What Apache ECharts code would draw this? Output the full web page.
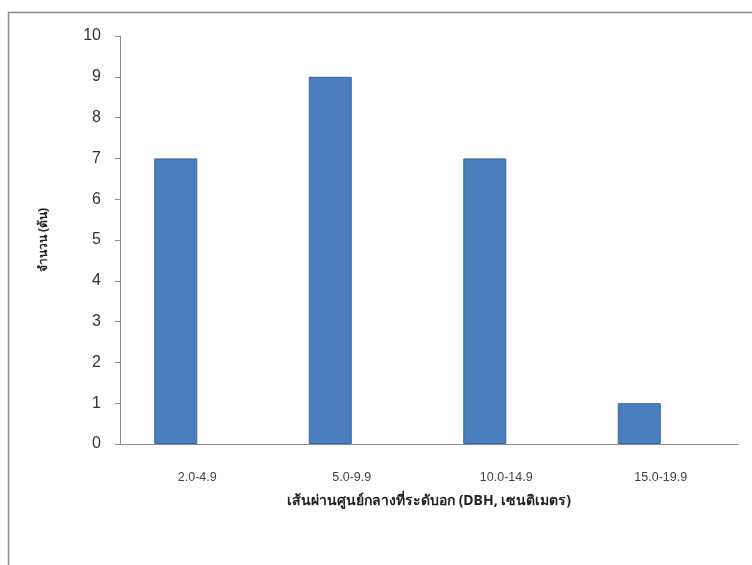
<!DOCTYPE html>
<html>
<head>
<meta charset="utf-8">
<script src="https://cdn.jsdelivr.net/npm/echarts@6/dist/echarts.min.js"></script>
<style>
  html, body { margin: 0; padding: 0; background: #fff; }
  #chart { width: 752px; height: 565px; }
</style>
</head>
<body>
<div id="chart"></div>
<script>
// diameter classes (cm) and tree counts
const categories = ['2.0-4.9', '5.0-9.9', '10.0-14.9', '15.0-19.9']
const counts = [7, 9, 7, 1]
const emptySeries = ['-', '-', '-', '-']
const yTicks = { min: 0, max: 10, interval: 1 }

const xTitle = 'เส้นผ่านศูนย์กลางที่ระดับอก (DBH, เซนติเมตร)'
const yTitle = 'จำนวน (ต้น)'

let chart = echarts.init(document.getElementById('chart'))

let option = {
    animation: false,
    backgroundColor: '#fff',
    graphic: [{
        type: 'rect',
        shape: { x: 8.5, y: 12.5, width: 760, height: 570 },
        style: { fill: 'none', stroke: '#8c8c8c', lineWidth: 1.5 },
        silent: true
    }],
    grid: { left: 120, right: 14, top: 36, bottom: 121 },
    xAxis: {
        type: 'category',
        data: categories,
        name: xTitle,
        nameLocation: 'middle',
        nameGap: 50,
        nameTextStyle: { fontSize: 14, fontWeight: 'bold', color: '#222', fontFamily: 'Noto Sans, DejaVu Sans, sans-serif' },
        axisLine: { lineStyle: { color: '#8c8c8c' } },
        axisTick: { alignWithLabel: false, length: 5, lineStyle: { color: '#8c8c8c' } },
        axisLabel: { color: '#444', fontSize: 12.5, margin: 27, fontFamily: 'Liberation Sans, Arial, sans-serif' }
    },
    yAxis: {
        type: 'value',
        min: yTicks.min,
        max: yTicks.max,
        interval: yTicks.interval,
        name: yTitle,
        nameLocation: 'middle',
        nameGap: 70,
        nameRotate: 90,
        nameTextStyle: { fontSize: 12, fontWeight: 'bold', color: '#222', fontFamily: 'Noto Sans, DejaVu Sans, sans-serif' },
        axisLine: { show: true, lineStyle: { color: '#8c8c8c' } },
        axisTick: { show: true, length: 5, lineStyle: { color: '#8c8c8c' } },
        axisLabel: { color: '#333', fontSize: 16, margin: 19, fontFamily: 'Liberation Sans, sans-serif' },
        splitLine: { show: false }
    },
    series: [{
        name: 'count',
        type: 'bar',
        data: counts,
        barWidth: 43,
        barGap: '0%',
        itemStyle: { color: '#4a7ebf', borderColor: '#3a65a0', borderWidth: 1 }
    }, {
        name: 'empty',
        type: 'bar',
        data: emptySeries,
        barWidth: 43
    }]
}

chart.setOption(option)
</script>
</body>
</html>
